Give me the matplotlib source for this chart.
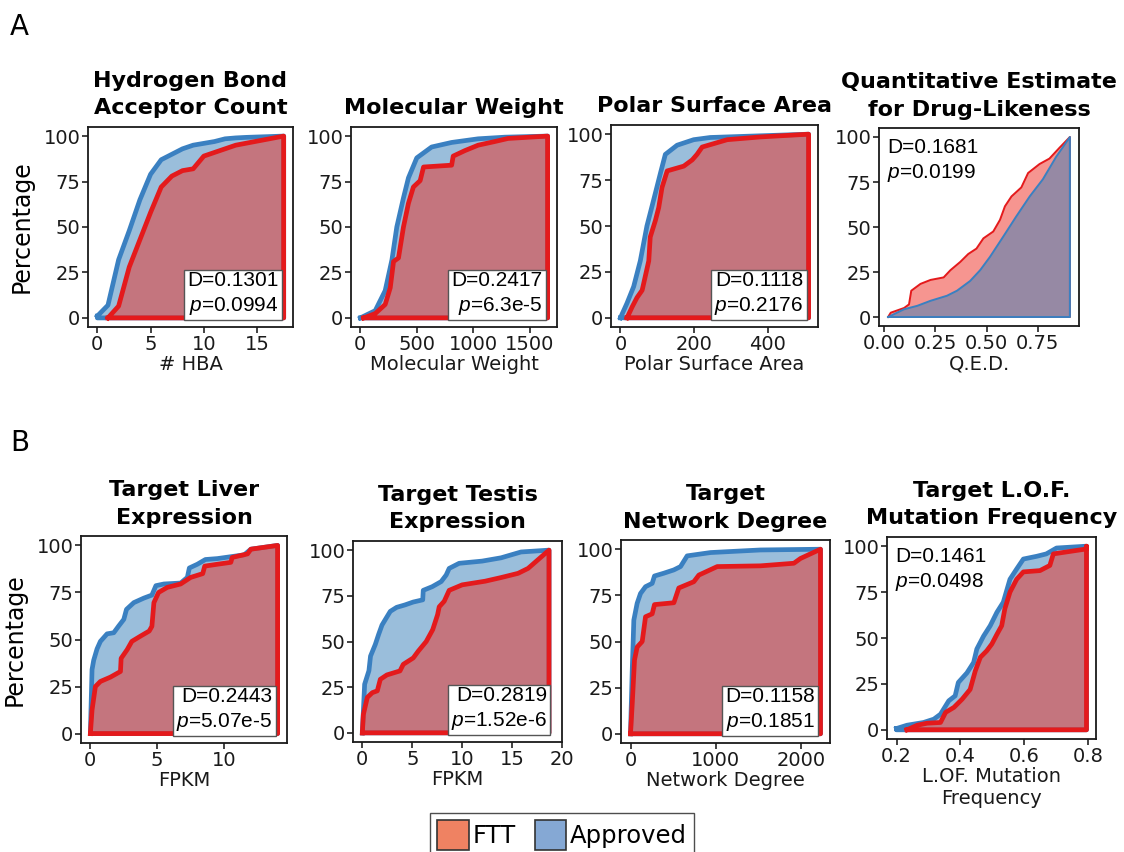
import matplotlib
matplotlib.use("Agg")
import matplotlib.pyplot as plt
from matplotlib.patches import Patch
import numpy as np

plt.rcParams["font.family"] = ["DejaVu Sans"]
plt.rcParams["mathtext.fontset"] = "custom"
plt.rcParams["mathtext.rm"] = "Liberation Sans"
plt.rcParams["mathtext.it"] = "Liberation Sans:italic"

W, H = 1124, 852

BLUE_LINE = "#3A80C1"
BLUE_FILL = "#377EB8"
RED_LINE = "#E41A1C"
RED_FILL = "#EE2D22"
ANNOT_FONT = ["Liberation Sans", "DejaVu Sans"]

# ---- data (cumulative percentage curves) ----
hba_appr_x = [0, 1, 2, 3, 4, 5, 6, 7, 8, 9, 10, 11, 12, 13, 14, 15, 17.5]
hba_appr_y = [1, 7, 32, 48, 65, 79, 87, 90, 93, 95, 96, 97, 98.5, 99, 99.3, 99.5, 100]
hba_ftt_x = [1, 2, 3, 4, 5, 6, 7, 8, 9, 10, 12, 13, 17.5]
hba_ftt_y = [0, 6.5, 28, 43, 58, 72, 78, 81, 82, 89, 93, 95, 100]

mw_appr_x = [0, 132, 220, 280, 323, 382, 426, 500, 632, 809, 1044, 1280, 1660]
mw_appr_y = [0, 4, 15, 32, 50, 66, 77, 88, 94, 96.5, 98.5, 99.4, 100]
mw_ftt_x = [30, 132, 220, 265, 294, 338, 382, 426, 470, 530, 560, 809, 823, 926, 1044, 1191, 1309, 1660]
mw_ftt_y = [0, 2.4, 7.4, 16.6, 31, 33, 50, 63, 72, 75.5, 83, 84, 89, 92, 95, 97, 98.7, 100]

psa_appr_x = [0, 18, 36, 54, 72, 90, 109, 122, 154, 199, 244, 511]
psa_appr_y = [0, 8, 17, 31, 50, 64, 79, 89, 94, 97, 98.2, 100]
psa_ftt_x = [18, 32, 45, 59, 77, 81, 95, 104, 113, 127, 172, 195, 208, 222, 290, 380, 511]
psa_ftt_y = [0, 6, 11, 15, 31, 44, 53, 60, 71, 80, 82.6, 86, 89, 93, 97, 98.5, 100]

qed_appr_x = [0.019, 0.097, 0.161, 0.226, 0.306, 0.355, 0.419, 0.468, 0.516, 0.581,
              0.645, 0.71, 0.774, 0.839, 0.906]
qed_appr_y = [0, 4.3, 6.2, 9, 11.8, 14.6, 20, 26, 33.4, 44.7, 56, 67, 76.5, 89, 100]
qed_ftt_x = [0.019, 0.032, 0.097, 0.121, 0.132, 0.177, 0.226, 0.29, 0.323, 0.371, 0.41,
             0.45, 0.484, 0.532, 0.565, 0.589, 0.621, 0.669, 0.702, 0.758, 0.806, 0.855, 0.906]
qed_ftt_y = [0, 2.4, 5, 7, 14.6, 18.4, 20.6, 22, 26, 30.6, 35, 38, 43.7, 47.5, 54, 61.5,
             67, 72, 80, 85, 88, 94, 100]

liv_appr_x = [0, 0.125, 0.25, 0.5, 0.75, 1.25, 1.75, 2.1, 2.5, 2.7, 3.25, 4, 4.6, 4.9,
              5.5, 6.75, 7.25, 7.4, 8, 8.6, 9.5, 10.5, 11.5, 12, 14]
liv_appr_y = [0, 34, 39, 45, 49, 53, 53.6, 57, 60.7, 66, 69.6, 72, 73.6, 78.6, 79.5, 80,
              83, 88, 90, 92.5, 93, 94, 95, 98, 100]
liv_ftt_x = [0, 0.125, 0.375, 0.75, 1.5, 2.25, 2.3, 2.75, 3.1, 3.75, 4.4, 4.6, 4.75, 5.1,
             5.75, 6.75, 7.5, 8.4, 8.55, 9.5, 10.5, 10.6, 11.75, 12, 14]
liv_ftt_y = [0, 12.5, 25, 27.7, 30, 33, 40, 44.6, 49, 51.8, 54.5, 57, 69.6, 75, 77.7, 79.5,
             83, 85, 89, 90, 91, 93.6, 95.5, 98, 100]

tes_appr_x = [0, 0.23, 0.66, 0.82, 1.3, 1.64, 1.97, 2.3, 2.8, 3.44, 4.26, 5.1, 6.05, 6.1,
              7, 7.9, 8.4, 8.7, 9.7, 12, 13.9, 15.9, 18.7]
tes_appr_y = [0, 26.6, 34, 42, 48.4, 54, 59, 62, 66.5, 68.7, 70, 71.6, 72.8, 78, 80, 82.8,
              86.4, 90, 92.8, 94, 95.8, 99, 100]
tes_ftt_x = [0, 0.1, 0.5, 1, 1.5, 1.8, 2.46, 3.77, 4.1, 5.1, 5.6, 6.4, 7.05, 7.54, 7.7,
             8.2, 8.7, 10, 12.3, 13.9, 15.6, 16.6, 18.7]
tes_ftt_y = [0, 10, 19.4, 22, 23, 29.3, 31.7, 33.9, 37.5, 41, 44.7, 50, 56.5, 64.7, 69, 72,
             78, 81, 83, 85, 87.3, 90, 100]

net_appr_x = [0, 20, 39, 78, 117, 176, 254, 281, 390, 508, 586, 664, 938, 1523, 2226]
net_appr_y = [0, 34, 61.6, 70.7, 76, 79.7, 81.5, 85.5, 87, 88.8, 90.6, 96.4, 98.2, 99.6, 100]
net_ftt_x = [0, 20, 47, 78, 137, 176, 254, 281, 508, 566, 742, 801, 1016, 1523, 1914, 1992, 2226]
net_ftt_y = [0, 16, 40, 47, 50, 63.4, 65, 70, 71, 79, 82.4, 86, 90.6, 91, 92.4, 95, 100]

lof_appr_x = [0.2, 0.233, 0.285, 0.317, 0.338, 0.364, 0.384, 0.394, 0.421, 0.442, 0.452,
              0.473, 0.494, 0.515, 0.535, 0.556, 0.577, 0.598, 0.64, 0.67, 0.702, 0.796]
lof_appr_y = [0.7, 2.5, 4, 5.8, 8.5, 15.8, 18.5, 25.8, 31, 36.7, 44, 51, 56.7, 64, 69.5,
              82, 87.6, 93, 94.5, 95.8, 99, 100]
lof_ftt_x = [0.233, 0.265, 0.296, 0.338, 0.354, 0.38, 0.406, 0.431, 0.447, 0.463, 0.483,
             0.499, 0.515, 0.53, 0.54, 0.556, 0.577, 0.598, 0.65, 0.681, 0.692, 0.796, 0.796]
lof_ftt_y = [0, 2.5, 3.6, 4, 9.5, 12.2, 16.7, 22, 32, 39.5, 43, 46.7, 52, 56.7, 66, 75,
             82, 86, 86.7, 89.5, 95.8, 98.5, 100]

titles = ["Hydrogen Bond\nAcceptor Count", "Molecular Weight", "Polar Surface Area",
          "Quantitative Estimate\nfor Drug-Likeness",
          "Target Liver\nExpression", "Target Testis\nExpression", "Target\nNetwork Degree",
          "Target L.O.F.\nMutation Frequency"]
xlabels = ["# HBA", "Molecular Weight", "Polar Surface Area", "Q.E.D.",
           "FPKM", "FPKM", "Network Degree", "L.OF. Mutation\nFrequency"]
xticks = [[0, 5, 10, 15], [0, 500, 1000, 1500], [0, 200, 400], [0.0, 0.25, 0.5, 0.75],
          [0, 5, 10], [0, 5, 10, 15, 20], [0, 1000, 2000], [0.2, 0.4, 0.6, 0.8]]
xtick_fmt = ["{:.0f}", "{:.0f}", "{:.0f}", "{:.2f}", "{:.0f}", "{:.0f}", "{:.0f}", "{:.1f}"]
d_stats = ["0.1301", "0.2417", "0.1118", "0.1681", "0.2443", "0.2819", "0.1158", "0.1461"]
p_stats = ["0.0994", "6.3e-5", "0.2176", "0.0199", "5.07e-5", "1.52e-6", "0.1851", "0.0498"]
curves = [
    (hba_appr_x, hba_appr_y, hba_ftt_x, hba_ftt_y),
    (mw_appr_x, mw_appr_y, mw_ftt_x, mw_ftt_y),
    (psa_appr_x, psa_appr_y, psa_ftt_x, psa_ftt_y),
    (qed_appr_x, qed_appr_y, qed_ftt_x, qed_ftt_y),
    (liv_appr_x, liv_appr_y, liv_ftt_x, liv_ftt_y),
    (tes_appr_x, tes_appr_y, tes_ftt_x, tes_ftt_y),
    (net_appr_x, net_appr_y, net_ftt_x, net_ftt_y),
    (lof_appr_x, lof_appr_y, lof_ftt_x, lof_ftt_y),
]

# axes boxes in pixels: left, right, top, bottom
boxes = [(88, 293, 127, 327), (351, 557, 127, 327), (611, 818, 125, 327), (879, 1079, 128, 326),
         (81, 287, 536, 743), (353, 562, 541, 742), (621, 830, 540, 743), (887, 1096, 537, 739)]


def closed(xs, ys):
    # close the curve down to y=0 like a filled polygon
    px = list(xs) + [xs[-1], xs[0], xs[0]]
    py = list(ys) + [0, 0, ys[0]]
    return px, py


def draw_shape(ax, xs, ys, fill, line, alpha, lw, z):
    px, py = closed(xs, ys)
    ax.fill(px, py, color=fill, alpha=alpha, lw=0, zorder=z)
    ax.plot(px, py, color=line, lw=lw, solid_joinstyle="round", zorder=z + 0.5)


fig = plt.figure(figsize=(W / 100, H / 100), dpi=100)

for i, (l, r, t, b) in enumerate(boxes):
    ax = fig.add_axes([l / W, 1 - b / H, (r - l) / W, (b - t) / H])
    ax_x, ax_y, ft_x, ft_y = curves[i]
    if i == 3:
        draw_shape(ax, ft_x, ft_y, RED_FILL, RED_LINE, 0.5, 1.4, 2)
        draw_shape(ax, ax_x, ax_y, BLUE_FILL, BLUE_LINE, 0.5, 1.4, 3)
    else:
        draw_shape(ax, ax_x, ax_y, BLUE_FILL, BLUE_LINE, 0.5, 3.4, 2)
        draw_shape(ax, ft_x, ft_y, RED_FILL, RED_LINE, 0.5, 3.4, 3)

    xmin = min(min(ax_x), min(ft_x))
    xmax = max(max(ax_x), max(ft_x))
    pad = 0.05 * (xmax - xmin)
    ax.set_xlim(xmin - pad, xmax + pad)
    ax.set_ylim(-5, 105)
    ax.set_yticks([0, 25, 50, 75, 100])
    ax.set_xticks(xticks[i])
    ax.set_xticklabels([xtick_fmt[i].format(v) for v in xticks[i]])
    ax.tick_params(labelsize=14, length=4, width=1.2, color="#222222",
                   labelcolor="#1a1a1a", pad=1.5)
    for s in ax.spines.values():
        s.set_linewidth(1.3)
        s.set_color("#1a1a1a")

    ax.set_title(titles[i], fontsize=16, fontweight="bold", pad=9, linespacing=1.45)
    ax.set_xlabel(xlabels[i], fontsize=14, labelpad=1, color="#1a1a1a")
    if i in (0, 4):
        ax.set_ylabel("Percentage", fontsize=17, labelpad=7)

    label = "D=" + d_stats[i] + "\n" + r"$\mathit{p}$=" + p_stats[i]
    if i in (3, 7):
        ax.text(0.04, 0.95, label, transform=ax.transAxes, ha="left", va="top",
                fontsize=15, linespacing=1.3, zorder=5, family=ANNOT_FONT)
    else:
        ax.text(0.93, 0.05, label, transform=ax.transAxes, ha="right", va="bottom",
                fontsize=15, linespacing=1.3, multialignment="right", zorder=5,
                family=ANNOT_FONT,
                bbox=dict(boxstyle="square,pad=0.15", fc="white", ec="#555555", lw=1.0))

fig.text(10 / W, 1 - 27 / H, "A", fontsize=20, ha="left", va="center")
fig.text(10 / W, 1 - 443 / H, "B", fontsize=20, ha="left", va="center")

handles = [Patch(facecolor="#EF8262", edgecolor="#333333", lw=1.2, label="FTT"),
           Patch(facecolor="#85A8D4", edgecolor="#333333", lw=1.2, label="Approved")]
fig.legend(handles=handles, loc="upper center", bbox_to_anchor=(562 / W, 1 - 813 / H),
           ncol=2, fontsize=17.5, frameon=True, fancybox=False, edgecolor="#222222",
           handlelength=1.3, handleheight=1.5, handletextpad=0.15, columnspacing=0.8,
           borderpad=0.3, borderaxespad=0.0)

fig.savefig("out.png", dpi=100)
